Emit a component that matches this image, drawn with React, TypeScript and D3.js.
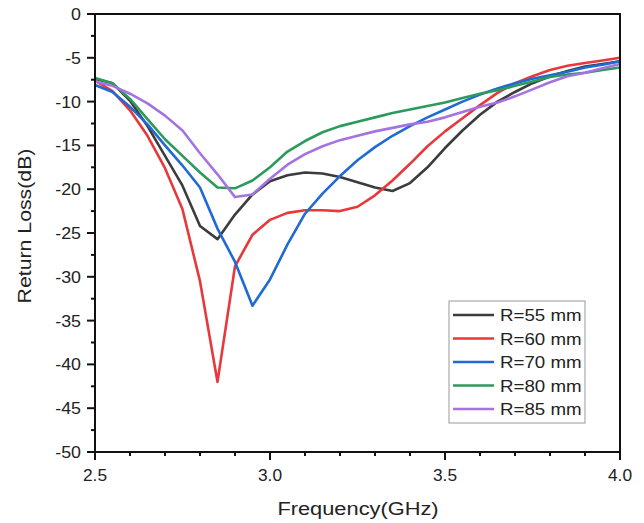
import React from "react";
import * as d3 from "d3";

const freqs = [2.5, 2.55, 2.6, 2.65, 2.7, 2.75, 2.8, 2.85, 2.9, 2.95, 3.0, 3.05, 3.1, 3.15, 3.2, 3.25, 3.3, 3.35, 3.4, 3.45, 3.5, 3.55, 3.6, 3.65, 3.7, 3.75, 3.8, 3.85, 3.9, 3.95, 4.0];

const r55 = [-7.4, -7.9, -9.9, -12.8, -16.2, -19.6, -24.2, -25.7, -22.9, -20.6, -19.1, -18.4, -18.1, -18.2, -18.6, -19.2, -19.8, -20.2, -19.3, -17.5, -15.3, -13.3, -11.5, -10.0, -8.9, -7.9, -7.1, -6.5, -6.0, -5.7, -5.4];
const r60 = [-7.6, -8.8, -11.0, -13.9, -17.6, -22.3, -30.5, -42.0, -28.8, -25.2, -23.5, -22.7, -22.4, -22.4, -22.5, -22.0, -20.7, -19.0, -17.1, -15.1, -13.4, -11.9, -10.4, -9.0, -7.9, -7.1, -6.4, -5.9, -5.6, -5.3, -5.0];
const r70 = [-8.1, -8.9, -10.6, -12.6, -15.0, -17.3, -19.8, -24.5, -28.3, -33.3, -30.3, -26.3, -22.8, -20.5, -18.5, -16.7, -15.2, -13.9, -12.8, -11.8, -10.9, -10.0, -9.2, -8.5, -7.9, -7.4, -7.0, -6.6, -6.1, -5.8, -5.4];
const r80 = [-7.3, -7.9, -9.7, -12.0, -14.3, -16.2, -18.1, -19.8, -19.9, -19.0, -17.5, -15.7, -14.5, -13.5, -12.8, -12.3, -11.8, -11.3, -10.9, -10.5, -10.1, -9.6, -9.1, -8.7, -8.2, -7.7, -7.2, -6.9, -6.7, -6.4, -6.1];
const r85 = [-7.7, -8.2, -9.1, -10.2, -11.6, -13.3, -15.9, -18.3, -20.9, -20.6, -18.8, -17.2, -16.0, -15.1, -14.4, -13.9, -13.4, -13.0, -12.6, -12.3, -11.8, -11.2, -10.6, -10.1, -9.4, -8.6, -7.8, -7.1, -6.7, -6.2, -5.7];

const seriesNames = ["R=55 mm", "R=60 mm", "R=70 mm", "R=80 mm", "R=85 mm"];
const seriesValues = [r55, r60, r70, r80, r85];
const seriesColors = ["#3c3c3c", "#e8383c", "#1f6ad4", "#2c9a5c", "#a572e2"];

const xTicks = [2.5, 3.0, 3.5, 4.0];
const yTicks = [0, -5, -10, -15, -20, -25, -30, -35, -40, -45, -50];

const FONT = "'Liberation Sans', Arial, sans-serif";

export default function App() {
  const W = 644, H = 523;
  const x = d3.scaleLinear().domain([2.5, 4.0]).range([95, 620]);
  const y = d3.scaleLinear().domain([0, -50]).range([14, 452]);
  const line = d3.line<[number, number]>().x(d => x(d[0])).y(d => y(d[1])).curve(d3.curveLinear);

  const xMinor = d3.range(25, 41).map(v => v / 10);
  const yMinor = d3.range(0, 21).map(v => -v * 2.5);

  const legX = 449, legY = 301, legW = 136, legH = 122;

  return (
    <svg width={W} height={H} style={{ position: "absolute", left: 0, top: 0 }} fontFamily={FONT}>
      <rect x={0} y={0} width={W} height={H} fill="#fff" />
      <g>
        {seriesValues.map((vals, i) => (
          <path key={i} d={line(freqs.map((f, j) => [f, vals[j]] as [number, number])) || ""}
            fill="none" stroke={seriesColors[i]} strokeWidth={2.6} strokeLinejoin="round" />
        ))}
      </g>
      <rect x={95} y={14} width={525} height={438} fill="none" stroke="#111" strokeWidth={2} />
      {xMinor.map((v, i) => (
        <line key={"xm" + i} x1={x(v)} x2={x(v)} y1={452} y2={i % 5 === 0 ? 460 : 456} stroke="#111" strokeWidth={2} />
      ))}
      {xTicks.map(v => (
        <text key={"xt" + v} transform={`translate(${x(v)},481) scale(1.05,1)`} fontSize={16.5} textAnchor="middle" fill="#222">{v.toFixed(1)}</text>
      ))}
      {yMinor.map((v, i) => (
        <line key={"ym" + i} y1={y(v)} y2={y(v)} x1={95} x2={i % 2 === 0 ? 87 : 91} stroke="#111" strokeWidth={2} />
      ))}
      {yTicks.map(v => (
        <text key={"yt" + v} transform={`translate(81,${y(v) + 6}) scale(1.08,1)`} fontSize={16.5} textAnchor="end" fill="#222">{v}</text>
      ))}
      <text transform="translate(358,515) scale(1.18,1)" fontSize={18.5} textAnchor="middle" fill="#222">Frequency(GHz)</text>
      <text transform="translate(31,226) rotate(-90) scale(1.15,1)" fontSize={18.5} textAnchor="middle" fill="#222">Return Loss(dB)</text>
      <rect x={legX} y={legY} width={legW} height={legH} fill="#fff" stroke="#999" strokeWidth={1} />
      {seriesNames.map((n, i) => (
        <g key={n}>
          <line x1={453} x2={494} y1={315 + i * 23.5} y2={315 + i * 23.5} stroke={seriesColors[i]} strokeWidth={2.6} />
          <text transform={`translate(500,${315 + i * 23.5 + 6}) scale(1.17,1)`} fontSize={16} fill="#222">{n}</text>
        </g>
      ))}
    </svg>
  );
}
